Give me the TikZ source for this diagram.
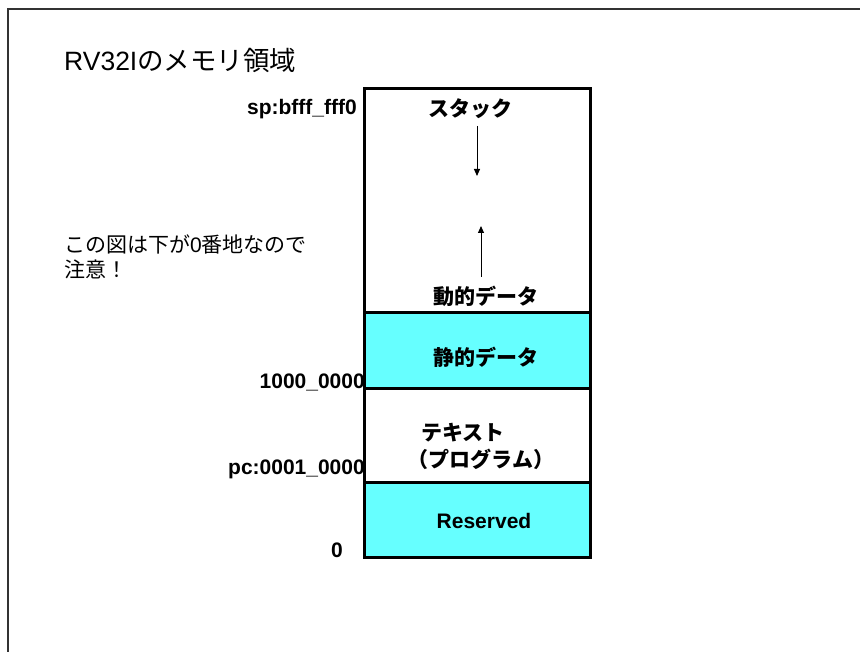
\documentclass[tikz,border=0pt]{standalone}
\usepackage{fontspec}
\setmainfont{Liberation Sans}
\newfontfamily\jp{Noto Sans CJK JP}
\usetikzlibrary{arrows.meta}
\definecolor{cyanfill}{HTML}{66FFFF}
\begin{document}
\begin{tikzpicture}[x=1pt,y=-1pt,
  region/.style={draw=black, line width=3pt, minimum width=226pt, inner sep=0pt, outer sep=0pt},
  lbl/.style={font=\fontsize{21}{25}\selectfont\bfseries, inner sep=0pt},
  plain/.style={font=\fontsize{21}{25}\selectfont, inner sep=0pt},
  growarrow/.style={line width=1pt, -{Triangle[length=7pt,width=6pt]}}]
\useasboundingbox (0,0) rectangle (860,652);
\fill[white] (0,0) rectangle (860,652);
\draw[line width=2pt, draw=black!80] (8,652) -- (8,9) -- (860,9);
% title
\node[font=\fontsize{26.5}{30}\selectfont, inner sep=0pt, anchor=west] (title) at (64,60) {RV32I{\jp のメモリ領域}};
% note
\node[plain, anchor=north west, align=left] (note) at (64,235) {{\jp この図は下が}0{\jp 番地なので}\\[0pt]{\jp 注意！}};
% regions
\node[region, minimum height=224pt] (dyn) at (477,201) {};
\node[region, fill=cyanfill, minimum height=76pt] (stat) at (477,351) {};
\node[region, minimum height=93pt] (text) at (477,435.5) {};
\node[region, fill=cyanfill, minimum height=75pt] (res) at (477,519.5) {};
% inner labels
\node[lbl] (stack) at (470,109) {\jp スタック};
\node[lbl] (dynl) at (486,296) {\jp 動的データ};
\node[lbl] (statl) at (486,357) {\jp 静的データ};
\node[lbl, anchor=west] (textl) at (421,433) {\jp テキスト};
\node[lbl] (progl) at (481,459) {\jp （プログラム）};
\node[lbl] (resl) at (484,521) {Reserved};
% arrows
\coordinate (s1) at (477,126);
\coordinate (s2) at (477,176);
\coordinate (d1) at (481,277);
\coordinate (d2) at (481,226);
\draw[growarrow] (s1) -- (s2);
\draw[growarrow] (d1) -- (d2);
% address labels
\node[lbl, anchor=east] (sp) at (357,109) {sp:bfff\_fff0};
\node[lbl, anchor=east] (a1000) at (365,382) {1000\_0000};
\node[lbl, anchor=east] (pc) at (365,469) {pc:0001\_0000};
\node[lbl] (zero) at (337,550) {0};
\end{tikzpicture}
\end{document}
